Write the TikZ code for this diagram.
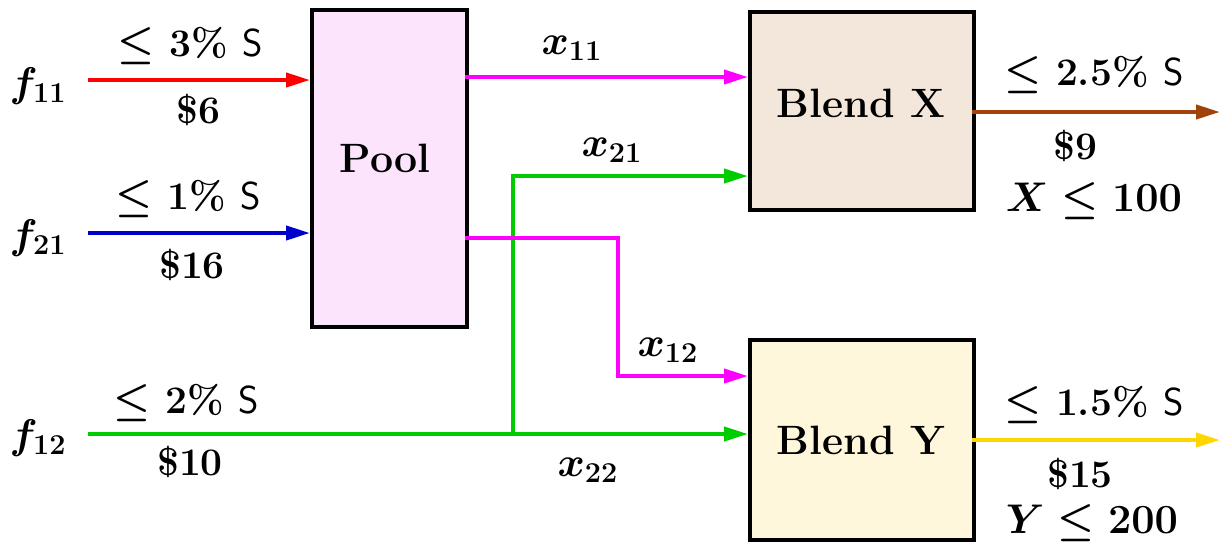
\documentclass[tikz,border=0pt]{standalone}
\usetikzlibrary{arrows.meta}
\definecolor{poolfill}{HTML}{FCE4FC}
\definecolor{bxfill}{HTML}{F3E6DA}
\definecolor{byfill}{HTML}{FFF7DC}
\definecolor{cred}{HTML}{FF0000}
\definecolor{cblue}{HTML}{0000CC}
\definecolor{cgreen}{HTML}{00CC00}
\definecolor{cmag}{HTML}{FF00FF}
\definecolor{cbrown}{HTML}{A0420A}
\definecolor{cgold}{HTML}{FFD700}
\newcommand{\Sul}{\textsf{\mdseries S}}
\begin{document}
\begin{tikzpicture}[x=0.5pt,y=-0.5pt,
  every node/.style={font=\fontsize{19.5}{23}\selectfont\bfseries\boldmath, inner sep=0pt},
  boxtxt/.style={font=\fontsize{20.5}{24}\selectfont\bfseries\boldmath},
  unitbox/.style={draw=black, line width=2pt, inner sep=0pt, anchor=north west},
  flow/.style={line width=2pt, -{Triangle[length=12pt,width=7pt]}},
  plain/.style={line width=2pt}]
\useasboundingbox (0,0) rectangle (1220,548);
% boxes
\node[unitbox, fill=poolfill, minimum width=155*0.5pt, minimum height=317*0.5pt] (pool) at (310,8) {};
\node[boxtxt] at (385,158) (pooltxt) {Pool};
\node[unitbox, fill=bxfill, minimum width=224*0.5pt, minimum height=198*0.5pt] (bx) at (748,10) {};
\node[boxtxt] at (861,103) (bxtxt) {Blend X};
\node[unitbox, fill=byfill, minimum width=224*0.5pt, minimum height=200*0.5pt] (by) at (748,338) {};
\node[boxtxt] at (861,440) (bytxt) {Blend Y};
% feed labels
\node (f11) at (38,86) {$f_{11}$};
\node (f21) at (38,238) {$f_{21}$};
\node (f12) at (38,438) {$f_{12}$};
\coordinate (s11) at (88,80);
\coordinate (s21) at (88,233);
\coordinate (s12) at (88,434);
\coordinate (p11) at (310,80);
\coordinate (p21) at (310,233);
% feed arrows
\draw[flow, cred] (s11) -- (p11);
\draw[flow, cblue] (s21) -- (p21);
\coordinate (j) at (513,434);
\coordinate (y22) at (748,434);
\draw[flow, cgreen] (s12) -- (y22);
\coordinate (x21in) at (748,176);
\draw[flow, cgreen] (j) |- (x21in);
% pool outputs
\coordinate (po1) at (465,77);
\coordinate (x11in) at (748,77);
\draw[flow, cmag] (po1) -- (x11in);
\coordinate (po2) at (465,238);
\coordinate (bend) at (618,376);
\coordinate (x12in) at (748,376);
\draw[flow, cmag] (po2) -| (bend) -- (x12in);
% product outputs
\coordinate (bxo) at (972,112);
\coordinate (bxe) at (1220,112);
\draw[flow, cbrown] (bxo) -- (bxe);
\coordinate (byo) at (972,440);
\coordinate (bye) at (1220,440);
\draw[flow, cgold] (byo) -- (bye);
% feed stream labels
\node (l11a) at (190,46) {$\leq$ 3\% \Sul};
\node (l11b) at (198,110) {\$6};
\node (l21a) at (188,199) {$\leq$ 1\% \Sul};
\node (l21b) at (192,265) {\$16};
\node (l12a) at (186,403) {$\leq$ 2\% \Sul};
\node (l12b) at (190,462) {\$10};
% flow labels
\node (lx11) at (572,48) {$x_{11}$};
\node (lx21) at (612,150) {$x_{21}$};
\node (lx12) at (668,350) {$x_{12}$};
\node (lx22) at (588,470) {$x_{22}$};
% product labels
\node (lxa) at (1094,75) {$\leq$ 2.5\% \Sul};
\node (lxb) at (1075,146) {\$9};
\node (lxc) at (1094,201) {$X\leq 100$};
\node (lya) at (1094,405) {$\leq$ 1.5\% \Sul};
\node (lyb) at (1080,474) {\$15};
\node (lyc) at (1092,523) {$Y\leq 200$};
\end{tikzpicture}
\end{document}
